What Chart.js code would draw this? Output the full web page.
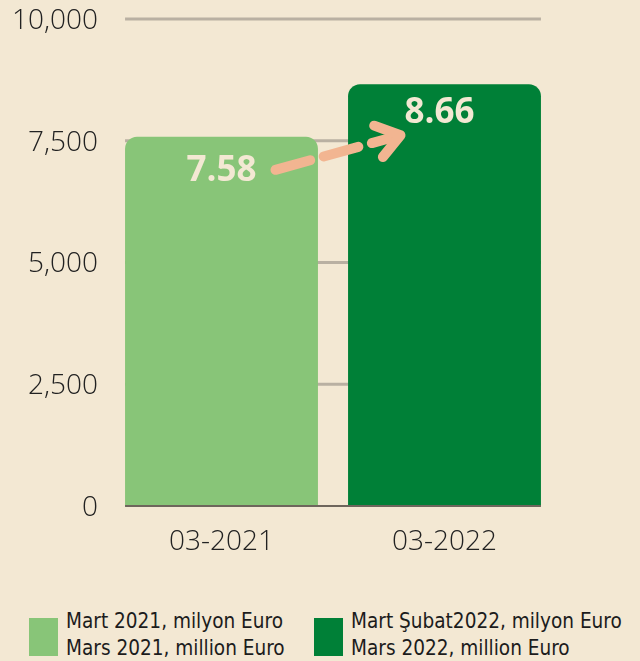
<!DOCTYPE html>
<html>
<head>
<meta charset="utf-8">
<script src="https://cdn.jsdelivr.net/npm/chart.js@4/dist/chart.umd.min.js"></script>
<style>
  html, body { margin:0; padding:0; background:#F3E8D3; }
  #wrap { position:relative; width:640px; height:661px; overflow:hidden; background:#F3E8D3; }
  #box { position:absolute; left:0; top:0; width:640px; height:590px; }
  .sw { position:absolute; width:29px; height:38px; top:618px; }
  .lt { position:absolute; top:607px; font-family:"Liberation Sans Narrow","DejaVu Sans Condensed",sans-serif; font-size:22px; line-height:27px; color:#1c1c1c; white-space:nowrap; transform:scaleX(0.935); transform-origin:left top; }
</style>
</head>
<body>
<div id="wrap">
  <div id="box"><canvas id="c"></canvas></div>
  <div id="legend"></div>
</div>
<script>
const categories = ['03-2021', '03-2022'];
const values = [7580, 8660];
const valueLabels = ['7.58', '8.66'];
const yTicks = [0, 2500, 5000, 7500, 10000];
const legendLabels = [
  ['Mart 2021, milyon Euro', 'Mars 2021, million Euro'],
  ['Mart Şubat2022, milyon Euro', 'Mars 2022, million Euro']
];
const barColors = ['#88C578', '#008037'];

// HTML legend
const legendLeft = [29, 314];
const legendEl = document.getElementById('legend');
legendLabels.forEach((lines, i) => {
  const sw = document.createElement('div');
  sw.className = 'sw';
  sw.style.left = legendLeft[i] + 'px';
  sw.style.background = barColors[i];
  legendEl.appendChild(sw);
  const t = document.createElement('div');
  t.className = 'lt';
  t.style.left = (legendLeft[i] + 37) + 'px';
  t.innerHTML = lines.join('<br>');
  legendEl.appendChild(t);
});

const gridLines = {
  id: 'gridLines',
  beforeDatasetsDraw(chart) {
    const ctx = chart.ctx;
    const y = chart.scales.y;
    const bars = chart.getDatasetMeta(0).data;
    const x0 = bars[0].x - bars[0].width / 2;
    const x1 = bars[bars.length - 1].x + bars[bars.length - 1].width / 2;
    ctx.save();
    yTicks.forEach(v => {
      if (v === 0) return;
      const py = y.getPixelForValue(v);
      ctx.strokeStyle = '#B9B0A2';
      ctx.lineWidth = 3;
      ctx.beginPath(); ctx.moveTo(x0, py); ctx.lineTo(x1, py); ctx.stroke();
    });
    ctx.restore();
  },
  afterDatasetsDraw(chart) {
    const ctx = chart.ctx;
    const y = chart.scales.y;
    const bars = chart.getDatasetMeta(0).data;
    const x0 = bars[0].x - bars[0].width / 2;
    const x1 = bars[bars.length - 1].x + bars[bars.length - 1].width / 2;
    const py = y.getPixelForValue(0);
    ctx.save();
    ctx.strokeStyle = '#6E665C';
    ctx.lineWidth = 2;
    ctx.beginPath(); ctx.moveTo(x0, py); ctx.lineTo(x1, py); ctx.stroke();
    ctx.restore();
  }
};

const annot = {
  id: 'annot',
  afterDatasetsDraw(chart) {
    const ctx = chart.ctx;
    const bars = chart.getDatasetMeta(0).data;
    const b0 = bars[0], b1 = bars[1];
    ctx.save();
    const sx = b0.x + 54, sy = b0.y + 33;
    const tx = b1.x - 44, ty = b1.y + 51;
    ctx.strokeStyle = '#F2B591';
    ctx.lineWidth = 10;
    ctx.lineCap = 'round';
    ctx.setLineDash([36, 14]);
    ctx.beginPath();
    ctx.moveTo(sx, sy);
    ctx.lineTo(tx - 4, ty + 1);
    ctx.stroke();
    ctx.setLineDash([]);
    const ang = Math.atan2(sy - ty, sx - tx);
    const L = 28, a = 0.62;
    ctx.lineJoin = 'round';
    ctx.beginPath();
    ctx.moveTo(tx + L * Math.cos(ang - a), ty + L * Math.sin(ang - a));
    ctx.lineTo(tx, ty);
    ctx.lineTo(tx + L * Math.cos(ang + a), ty + L * Math.sin(ang + a));
    ctx.stroke();
    ctx.fillStyle = '#F3E8D3';
    ctx.font = 'bold 35px "Open Sans", sans-serif';
    ctx.textAlign = 'center';
    ctx.textBaseline = 'middle';
    ctx.fillText(valueLabels[0], b0.x, b0.y + 34);
    ctx.fillText(valueLabels[1], b1.x - 5, b1.y + 29);
    ctx.restore();
  }
};

new Chart(document.getElementById('c'), {
  type: 'bar',
  data: {
    labels: categories,
    datasets: [{
      data: values,
      backgroundColor: barColors,
      borderRadius: { topLeft: 12, topRight: 12, bottomLeft: 0, bottomRight: 0 },
      borderSkipped: false,
      barPercentage: 0.865,
      categoryPercentage: 1.0
    }]
  },
  options: {
    responsive: true,
    maintainAspectRatio: false,
    animation: false,
    layout: { padding: { top: 19, right: 84, left: 0, bottom: 0 } },
    plugins: { legend: { display: false }, tooltip: { enabled: false } },
    scales: {
      x: {
        grid: { display: false },
        border: { display: false },
        ticks: { color: '#222', font: { family: 'Open Sans', size: 28, weight: '300' }, padding: 11 },
        afterFit(s) { s.height = 84; s.paddingLeft = 0; s.paddingRight = 0; }
      },
      y: {
        min: 0, max: 10000,
        afterBuildTicks(s) { s.ticks = yTicks.map(v => ({ value: v })); },
        grid: { display: false },
        border: { display: false },
        ticks: {
          color: '#222',
          font: { family: 'Open Sans', size: 28, weight: '300' },
          padding: 4,
          labelOffset: 2,
          callback: v => v.toLocaleString('en-US')
        },
        afterFit(s) { s.width = 110; s.paddingTop = 0; s.paddingBottom = 0; }
      }
    }
  },
  plugins: [gridLines, annot]
});
</script>
</body>
</html>
